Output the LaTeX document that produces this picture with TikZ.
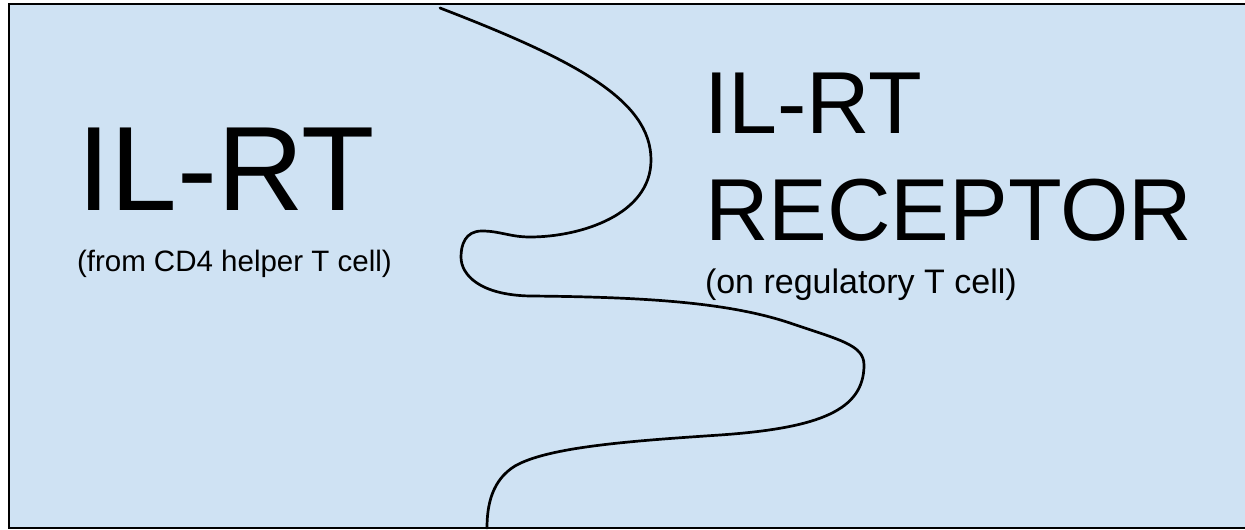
\documentclass[tikz,border=0pt]{standalone}
\usepackage{fontspec}
\setmainfont{Liberation Sans}
\definecolor{panelblue}{HTML}{CFE2F3}
\begin{document}
\begin{tikzpicture}[x=1pt,y=-1pt,
  lbl/.style={inner sep=0pt, outer sep=0pt, anchor=base west, text=black},
  membrane/.style={line width=2.7pt, line cap=round, line join=round}]
\useasboundingbox (0,0) rectangle (1245,530);
\begin{scope}
\clip (0,0) rectangle (1245,530);
\node[draw=black, line width=2pt, fill=panelblue, inner sep=0pt, outer sep=0pt,
  minimum width=1250pt, minimum height=524pt, anchor=north west] (panel) at (9,4) {};
\end{scope}
\node[lbl, font=\fontsize{120}{144}\selectfont] (ilrt) at (77,210) {IL-RT};
\node[lbl, font=\fontsize{29.5}{36}\selectfont] (from) at (77,271) {(from CD4 helper T cell)};
\node[lbl, font=\fontsize{88}{106}\selectfont] (ilrt2) at (704,133) {IL-RT};
\node[lbl, font=\fontsize{88}{106}\selectfont] (rec) at (705,240) {RECEPTOR};
\node[lbl, font=\fontsize{34}{40}\selectfont] (on) at (705,293) {(on regulatory T cell)};
\draw[membrane] (440,8) .. controls (575,60) and (651,100) .. (651,160)
  .. controls (651,215) and (580,237) .. (530,237)
  .. controls (510,237) and (500,231) .. (482,231)
  .. controls (465,231) and (461,245) .. (461,257)
  .. controls (461,275) and (480,295) .. (530,296)
  .. controls (650,297) and (730,303) .. (790,323)
  .. controls (840,340) and (864,345) .. (864,365)
  .. controls (864,410) and (820,428) .. (720,435)
  .. controls (630,441) and (548,447) .. (515,466)
  .. controls (492,480) and (487,505) .. (487,528);
\end{tikzpicture}
\end{document}
